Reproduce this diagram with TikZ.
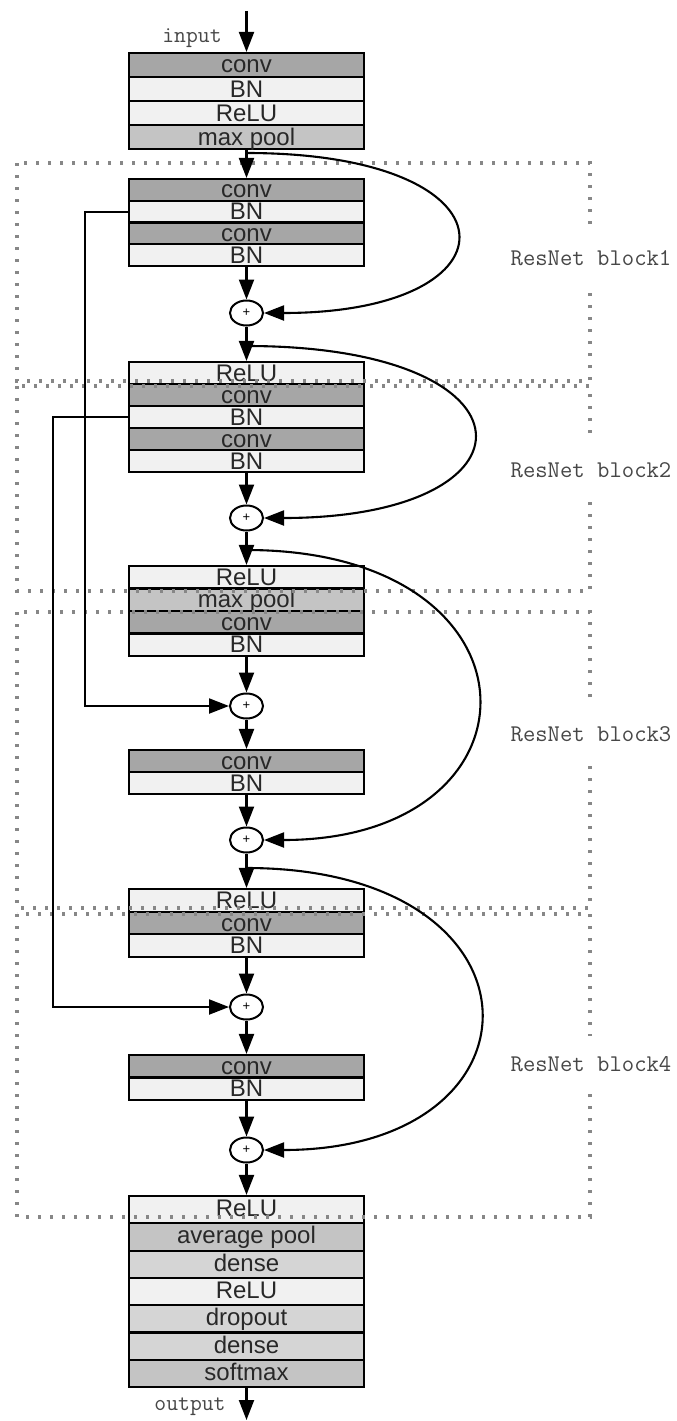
\documentclass[tikz,border=0pt]{standalone}
\usepackage{fontspec}
\setmainfont{Liberation Sans}
\usetikzlibrary{arrows.meta,shapes.geometric}
\definecolor{convc}{RGB}{166,166,166}
\definecolor{lightc}{RGB}{241,241,241}
\definecolor{poolc}{RGB}{196,196,196}
\definecolor{densec}{RGB}{213,213,213}
\definecolor{txtc}{RGB}{40,40,40}
\definecolor{dotc}{RGB}{135,135,135}
\begin{document}
\begin{tikzpicture}[x=1pt,y=-1pt,
  layer/.style={draw=black, line width=2.1pt, minimum width=235pt, inner sep=0pt,
    text height=16pt, text depth=0pt, text=txtc, font=\fontsize{24}{24}\selectfont},
  rh/.style={minimum height=#1},
  lconv/.style={layer, fill=convc},
  llight/.style={layer, fill=lightc},
  lpool/.style={layer, fill=poolc},
  ldense/.style={layer, fill=densec},
  fin/.style={text height=14pt},
  addc/.style={ellipse, draw=black, line width=2pt, fill=white, minimum width=33pt,
    minimum height=25pt, inner sep=0pt, font=\fontsize{13}{13}\selectfont},
  flow/.style={-{Triangle[length=20pt,width=15pt]}, line width=2.1pt, black},
  resbox/.style={draw=dotc, line width=3.2pt, dash pattern=on 3pt off 9pt},
  blocklbl/.style={fill=white, inner xsep=1pt, minimum height=57pt, text=black!72,
    font=\ttfamily\fontsize{24}{24}\selectfont},
  iolbl/.style={inner sep=0pt, text=black!72, font=\ttfamily\fontsize{23}{23}\selectfont}
]
\useasboundingbox (0,0) rectangle (677,1421);

% ---------- stacks ----------
% top
\node[lconv,rh=24pt]  (t1) at (246.5,65)  {conv};
\node[llight,rh=24pt] (t2) at (246.5,89)  {BN};
\node[llight,rh=24pt] (t3) at (246.5,113) {ReLU};
\node[lpool,rh=24pt]  (t4) at (246.5,137) {max pool};
% block 1
\node[lconv,rh=21.75pt]  (a1) at (246.5,189.9) {conv};
\node[llight,rh=21.75pt] (a2) at (246.5,211.6) {BN};
\node[lconv,rh=21.75pt]  (a3) at (246.5,233.4) {conv};
\node[llight,rh=21.75pt] (a4) at (246.5,255.1) {BN};
% block 2
\node[llight,rh=22pt] (b1) at (246.5,373) {ReLU};
\node[lconv,rh=22pt]  (b2) at (246.5,395) {conv};
\node[llight,rh=22pt] (b3) at (246.5,417) {BN};
\node[lconv,rh=22pt]  (b4) at (246.5,439) {conv};
\node[llight,rh=22pt] (b5) at (246.5,461) {BN};
% block 3 upper
\node[llight,rh=22.5pt] (c1) at (246.5,577.25) {ReLU};
\node[lpool,rh=22.5pt]  (c2) at (246.5,599.75) {max pool};
\node[lconv,rh=22.5pt]  (c3) at (246.5,622.25) {conv};
\node[llight,rh=22.5pt] (c4) at (246.5,644.75) {BN};
% block 3 middle
\node[lconv,rh=22pt]  (cm1) at (246.5,761) {conv};
\node[llight,rh=22pt] (cm2) at (246.5,783) {BN};
% block 4 upper
\node[llight,rh=22.67pt] (d1) at (246.5,900.3) {ReLU};
\node[lconv,rh=22.67pt]  (d2) at (246.5,923)   {conv};
\node[llight,rh=22.67pt] (d3) at (246.5,945.7) {BN};
% block 4 middle
\node[lconv,rh=22.5pt]  (dm1) at (246.5,1066.25) {conv};
\node[llight,rh=22.5pt] (dm2) at (246.5,1088.75) {BN};
% final
\node[llight,fin,rh=27.3pt] (f1) at (246.5,1209.6) {ReLU};
\node[lpool,fin,rh=27.3pt]  (f2) at (246.5,1236.9) {average pool};
\node[ldense,fin,rh=27.3pt] (f3) at (246.5,1264.2) {dense};
\node[llight,fin,rh=27.3pt] (f4) at (246.5,1291.5) {ReLU};
\node[ldense,fin,rh=27.3pt] (f5) at (246.5,1318.8) {dropout};
\node[ldense,fin,rh=27.3pt] (f6) at (246.5,1346.1) {dense};
\node[lpool,fin,rh=27.3pt]  (f7) at (246.5,1373.4) {softmax};

% ---------- adders ----------
\node[addc] (p1)  at (246.5,313)  {+};
\node[addc] (p2)  at (246.5,518)  {+};
\node[addc] (p3a) at (246.5,706)  {+};
\node[addc] (p3b) at (246.5,840)  {+};
\node[addc] (p4a) at (246.5,1007) {+};
\node[addc] (p4b) at (246.5,1150) {+};

% ---------- dotted block frames ----------
\draw[resbox] (17,163) rectangle (590,381);
\draw[resbox] (17,386) rectangle (590,591);
\draw[resbox] (17,612) rectangle (590,908);
\draw[resbox] (17,914) rectangle (590,1217);

\node[blocklbl] (l1) at (591,258)  {ResNet block1};
\node[blocklbl] (l2) at (591,470)  {ResNet block2};
\node[blocklbl] (l3) at (591,734)  {ResNet block3};
\node[blocklbl] (l4) at (591,1064) {ResNet block4};

% ---------- main flow ----------
\coordinate (in)  at (246.5,11);
\coordinate (out) at (246.5,1420);
\node[iolbl] (inl)  at (192,38.5) {input};
\node[iolbl] (outl) at (190,1407) {output};

\draw[flow] (in) -- (t1.north);
\draw[flow] (t4.south) -- (a1.north);
\draw[flow] (a4.south) -- (p1.north);
\draw[flow] (p1.south) -- (b1.north);
\draw[flow] (b5.south) -- (p2.north);
\draw[flow] (p2.south) -- (c1.north);
\draw[flow] (c4.south) -- (p3a.north);
\draw[flow] (p3a.south) -- (cm1.north);
\draw[flow] (cm2.south) -- (p3b.north);
\draw[flow] (p3b.south) -- (d1.north);
\draw[flow] (d3.south) -- (p4a.north);
\draw[flow] (p4a.south) -- (dm1.north);
\draw[flow] (dm2.south) -- (p4b.north);
\draw[flow] (p4b.south) -- (f1.north);
\draw[flow] (f7.south) -- (out);

% ---------- identity skips (right) ----------
\coordinate (s1) at (246.5,153);
\coordinate (s2) at (246.5,346);
\coordinate (s3) at (246.5,550);
\coordinate (s4) at (246.5,868);
\draw[flow] (s1) .. controls (524,153) and (524,313) .. (p1.east);
\draw[flow] (s2) .. controls (546,346) and (546,518) .. (p2.east);
\draw[flow] (s3) .. controls (552,550) and (552,840) .. (p3b.east);
\draw[flow] (s4) .. controls (555,868) and (555,1150) .. (p4b.east);

% ---------- long skips (left) ----------
\draw[flow] (a2.west) -- ++(-43,0) |- (p3a.west);
\draw[flow] (b3.west) -- ++(-75,0) |- (p4a.west);
\end{tikzpicture}
\end{document}
